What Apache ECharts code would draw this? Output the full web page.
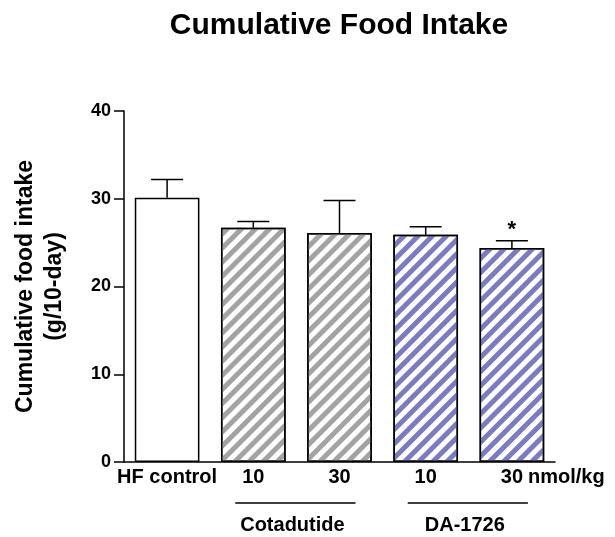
<!DOCTYPE html>
<html>
<head>
<meta charset="utf-8">
<script src="https://cdn.jsdelivr.net/npm/echarts@6/dist/echarts.min.js"></script>
<style>
  html, body { margin: 0; padding: 0; background: #fff; }
  #chart { width: 615px; height: 537px; }
</style>
</head>
<body>
<div id="chart"></div>
<script>
// data
const categories = ['HF control', '10', '30', '10', '30']
const means = [30.1, 26.7, 26.1, 25.9, 24.4]
const sds = [2.1, 0.7, 3.7, 0.9, 0.8]
const stripeColors = [null, '#a3a3a3', '#a3a3a3', '#7b7bc2', '#7b7bc2']
const significance = ['', '', '', '', '*']
const groupNames = ['Cotadutide', 'DA-1726']
const groupStart = [1, 3]
const groupEnd = [2, 4]
const yTicks = [0, 10, 20, 30, 40]

const FONT = 'Arial, "Liberation Sans", sans-serif'

const chart = echarts.init(document.getElementById('chart'))

const barData = means.map((v, i) => {
  const item = {
    value: v,
    itemStyle: { color: '#fff', borderColor: '#000', borderWidth: 1.5 }
  }
  if (stripeColors[i]) {
    item.itemStyle.decal = {
      symbol: 'rect',
      symbolSize: 1,
      color: stripeColors[i],
      dashArrayX: [1, 0],
      dashArrayY: [5, 5],
      rotation: -Math.PI / 4
    }
  }
  return item
})

const errData = means.map((v, i) => [i, v, sds[i], significance[i]])

const option = {
  animation: false,
  title: {
    text: 'Cumulative Food Intake',
    left: 334,
    top: 6,
    textAlign: 'center',
    textStyle: { fontFamily: FONT, fontSize: 30, fontWeight: 'bold', color: '#000' }
  },
  grid: { left: 124, right: 60, top: 111, bottom: 75 },
  xAxis: {
    type: 'category',
    data: categories,
    axisLine: { lineStyle: { color: '#000', width: 1.5 } },
    axisTick: { alignWithLabel: true, length: 8, lineStyle: { color: '#000', width: 1.5 } },
    axisLabel: { interval: 0, fontFamily: FONT, fontSize: 20, fontWeight: 'bold', color: '#000', margin: 5 }
  },
  yAxis: {
    type: 'value',
    min: yTicks[0],
    max: yTicks[yTicks.length - 1],
    interval: 10,
    splitLine: { show: false },
    axisLine: { show: true, lineStyle: { color: '#000', width: 1.5 } },
    axisTick: { show: true, length: 10, lineStyle: { color: '#000', width: 1.5 } },
    axisLabel: { fontFamily: FONT, fontSize: 18, fontWeight: 'bold', color: '#000', margin: 13 },
    name: 'Cumulative food intake\n(g/10-day)',
    nameLocation: 'middle',
    nameGap: 55,
    nameTextStyle: {
      fontFamily: FONT,
      fontSize: 23,
      fontWeight: 'bold',
      color: '#000',
      lineHeight: 29
    }
  },
  series: [
    {
      type: 'bar',
      data: barData,
      barWidth: '75%',
      z: 2
    },
    {
      type: 'custom',
      data: errData,
      z: 3,
      renderItem: (params, api) => {
        const x = api.value(0)
        const top = api.coord([x, api.value(1) + api.value(2)])
        const base = api.coord([x, api.value(1)])
        const half = 16
        const style = { stroke: '#000', lineWidth: 1.5 }
        const children = [
          { type: 'line', shape: { x1: base[0], y1: base[1], x2: top[0], y2: top[1] }, style },
          { type: 'line', shape: { x1: top[0] - half, y1: top[1], x2: top[0] + half, y2: top[1] }, style }
        ]
        const mark = significance[params.dataIndex]
        if (mark) {
          children.push({
            type: 'text',
            x: top[0],
            y: top[1],
            style: {
              text: mark, fill: '#000', font: 'bold 22px ' + FONT,
              textAlign: 'center', textVerticalAlign: 'bottom'
            }
          })
        }
        return { type: 'group', children }
      }
    }
  ]
}
chart.setOption(option)

// group brackets under the doses, placed through the axis scale
const graphics = []
const axisY = chart.convertToPixel({ gridIndex: 0 }, [0, 0])[1]
groupNames.forEach((name, g) => {
  const x1 = chart.convertToPixel({ xAxisIndex: 0 }, groupStart[g])
  const x2 = chart.convertToPixel({ xAxisIndex: 0 }, groupEnd[g])
  const lineY = axisY + 41
  graphics.push({
    type: 'line',
    shape: { x1: x1 - 18, y1: lineY, x2: x2 + 16, y2: lineY },
    style: { stroke: '#000', lineWidth: 1.5 }
  })
  graphics.push({
    type: 'text',
    x: (x1 + x2) / 2 - 4,
    y: lineY + 22,
    style: {
      text: name, fill: '#000', font: 'bold 20px ' + FONT,
      textAlign: 'center', textVerticalAlign: 'middle'
    }
  })
})
graphics.push({
  type: 'text',
  x: 528,
  y: axisY + 15,
  style: {
    text: 'nmol/kg', fill: '#000', font: 'bold 20px ' + FONT,
    textAlign: 'left', textVerticalAlign: 'middle'
  }
})
chart.setOption({ graphic: graphics })
</script>
</body>
</html>
